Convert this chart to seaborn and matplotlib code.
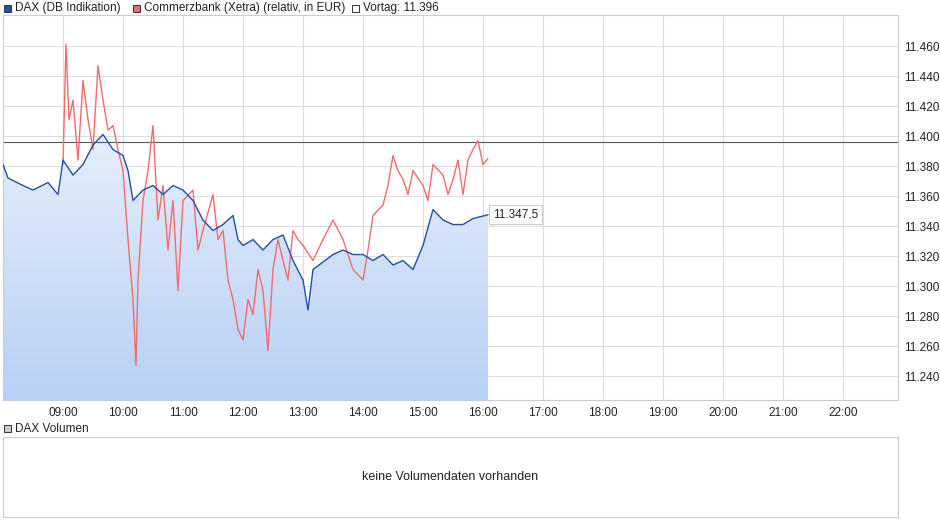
import matplotlib
matplotlib.use("Agg")
import matplotlib.pyplot as plt
import seaborn as sns
import numpy as np
import pandas as pd
from matplotlib.patches import Rectangle

sns.set_theme(style="white")
plt.rcParams['font.family'] = ['Liberation Sans', 'DejaVu Sans']

dax_time = ["08:00","08:05","08:20","08:30","08:45","08:55","09:00","09:10","09:20","09:30","09:40","09:50",
            "10:00","10:05","10:10","10:20","10:30","10:40","10:50","11:00","11:10","11:20","11:30","11:40",
            "11:50","11:55","12:00","12:10","12:20","12:30","12:40","12:50","13:00","13:05","13:10","13:20",
            "13:30","13:40","13:50","14:00","14:10","14:20","14:30","14:40","14:50","15:00","15:10","15:20",
            "15:30","15:40","15:50","16:05"]
dax_val = [11.381,11.372,11.367,11.364,11.369,11.361,11.384,11.374,11.381,11.394,11.401,11.391,
           11.387,11.377,11.357,11.364,11.367,11.361,11.367,11.364,11.357,11.344,11.337,11.341,
           11.347,11.331,11.327,11.331,11.324,11.331,11.334,11.317,11.304,11.284,11.311,11.316,
           11.321,11.324,11.321,11.321,11.317,11.321,11.314,11.317,11.311,11.327,11.351,11.344,
           11.341,11.341,11.345,11.3475]
cbk_time = ["09:00","09:03","09:06","09:10","09:15","09:20","09:25","09:30","09:35","09:40","09:45","09:50",
            "09:55","10:00","10:05","10:10","10:13","10:15","10:20","10:25","10:30","10:35","10:40","10:45",
            "10:50","10:55","11:00","11:10","11:15","11:20","11:30","11:35","11:40","11:45","11:50","11:55",
            "12:00","12:05","12:10","12:15","12:20","12:25","12:30","12:35","12:40","12:45","12:50","12:55",
            "13:00","13:10","13:20","13:30","13:40","13:45","13:50","14:00","14:05","14:10","14:20","14:25",
            "14:30","14:35","14:40","14:45","14:50","15:00","15:05","15:10","15:20","15:25","15:30","15:35",
            "15:40","15:45","15:50","15:55","16:00","16:05"]
cbk_val = [11.381,11.461,11.411,11.424,11.384,11.437,11.411,11.391,11.447,11.424,11.404,11.407,
           11.391,11.377,11.331,11.291,11.247,11.304,11.357,11.377,11.407,11.344,11.367,11.324,
           11.357,11.297,11.357,11.364,11.324,11.337,11.361,11.331,11.337,11.304,11.291,11.271,
           11.264,11.291,11.281,11.311,11.297,11.257,11.311,11.331,11.317,11.304,11.337,11.331,
           11.327,11.317,11.331,11.344,11.331,11.321,11.311,11.304,11.324,11.347,11.354,11.367,
           11.387,11.377,11.371,11.361,11.377,11.367,11.357,11.381,11.374,11.361,11.371,11.384,
           11.361,11.384,11.391,11.397,11.381,11.385]
vortag = 11.396
x_ticks = ["09:00","10:00","11:00","12:00","13:00","14:00","15:00","16:00","17:00","18:00","19:00","20:00","21:00","22:00"]
y_ticks = [11.240,11.260,11.280,11.300,11.320,11.340,11.360,11.380,11.400,11.420,11.440,11.460]

def h(t):
    a, b = t.split(":")
    return int(a) + int(b) / 60

df_d = pd.DataFrame({"t": [h(t) for t in dax_time], "v": dax_val})
df_c = pd.DataFrame({"t": [h(t) for t in cbk_time], "v": cbk_val})

fig = plt.figure(figsize=(9.4, 5.26), dpi=100)
ax = fig.add_axes([3/940, 1-400/526, 895/940, 385/526])
xmin, xmax = 8.0, 8.0 + 895/60
ymin, ymax = 11.224, 11.4807
ax.set_xlim(xmin, xmax); ax.set_ylim(ymin, ymax)

grad = np.linspace(0, 1, 256).reshape(-1, 1)
cmap = matplotlib.colors.LinearSegmentedColormap.from_list("g", ["#b7d0f4", "#e6effb"])
im = ax.imshow(grad, extent=[xmin, xmax, ymin, 11.405], origin="lower", aspect="auto", cmap=cmap, zorder=1)
poly = ax.fill_between(df_d.t, df_d.v, ymin, color="none")
im.set_clip_path(poly.get_paths()[0], transform=ax.transData)

sns.lineplot(data=df_c, x="t", y="v", ax=ax, color="#f36b6b", lw=1.0, zorder=3)
sns.lineplot(data=df_d, x="t", y="v", ax=ax, color="#1f50b0", lw=1.0, zorder=4)
ax.axhline(vortag, color="#555555", lw=0.8, zorder=2)

ax.set_xticks([h(t) for t in x_ticks]); ax.set_xticklabels(x_ticks)
ax.set_yticks(y_ticks); ax.set_yticklabels([f"{v:.3f}" for v in y_ticks])
ax.yaxis.tick_right()
ax.tick_params(axis="y", labelsize=8.5, colors="#222222", length=0, pad=4)
ax.tick_params(axis="x", labelsize=8.5, colors="#222222", length=3, pad=2)
ax.grid(True, color="#dddddd", lw=0.8)
ax.set_xlabel(""); ax.set_ylabel("")
for s in ax.spines.values():
    s.set_color("#cccccc"); s.set_linewidth(0.8)
ax.text(h("16:10"), dax_val[-1], "11.347,5", fontsize=8.5, va="center", ha="left", zorder=5,
        bbox=dict(boxstyle="square,pad=0.3", fc="white", ec="#cccccc", lw=0.8))

items = [("#1f50b0", "DAX (DB Indikation)", 4), ("#f36b6b", "Commerzbank (Xetra) (relativ, in EUR)", 133),
         ("white", "Vortag: 11.396", 352)]
for c, txt, px in items:
    fig.patches.append(Rectangle((px/940, 1-12/526), 7/940, 7/526, transform=fig.transFigure,
                                 fc=c, ec="#333333", lw=0.7))
    fig.text((px+11)/940, 1-8.5/526, txt, fontsize=8.5, va="center", color="#222222")
fig.patches.append(Rectangle((4/940, 1-432/526), 7/940, 7/526, transform=fig.transFigure,
                             fc="#cccccc", ec="#333333", lw=0.7))
fig.text(15/940, 1-428.5/526, "DAX Volumen", fontsize=8.5, va="center", color="#222222")

ax2 = fig.add_axes([3/940, 1-517/526, 895/940, 80/526])
ax2.set_xticks([]); ax2.set_yticks([])
for s in ax2.spines.values():
    s.set_color("#cccccc"); s.set_linewidth(0.8)
ax2.text(0.5, 0.5, "keine Volumendaten vorhanden", transform=ax2.transAxes, ha="center", va="center",
         fontsize=9, color="#222222")

fig.savefig("out.png", dpi=100)
